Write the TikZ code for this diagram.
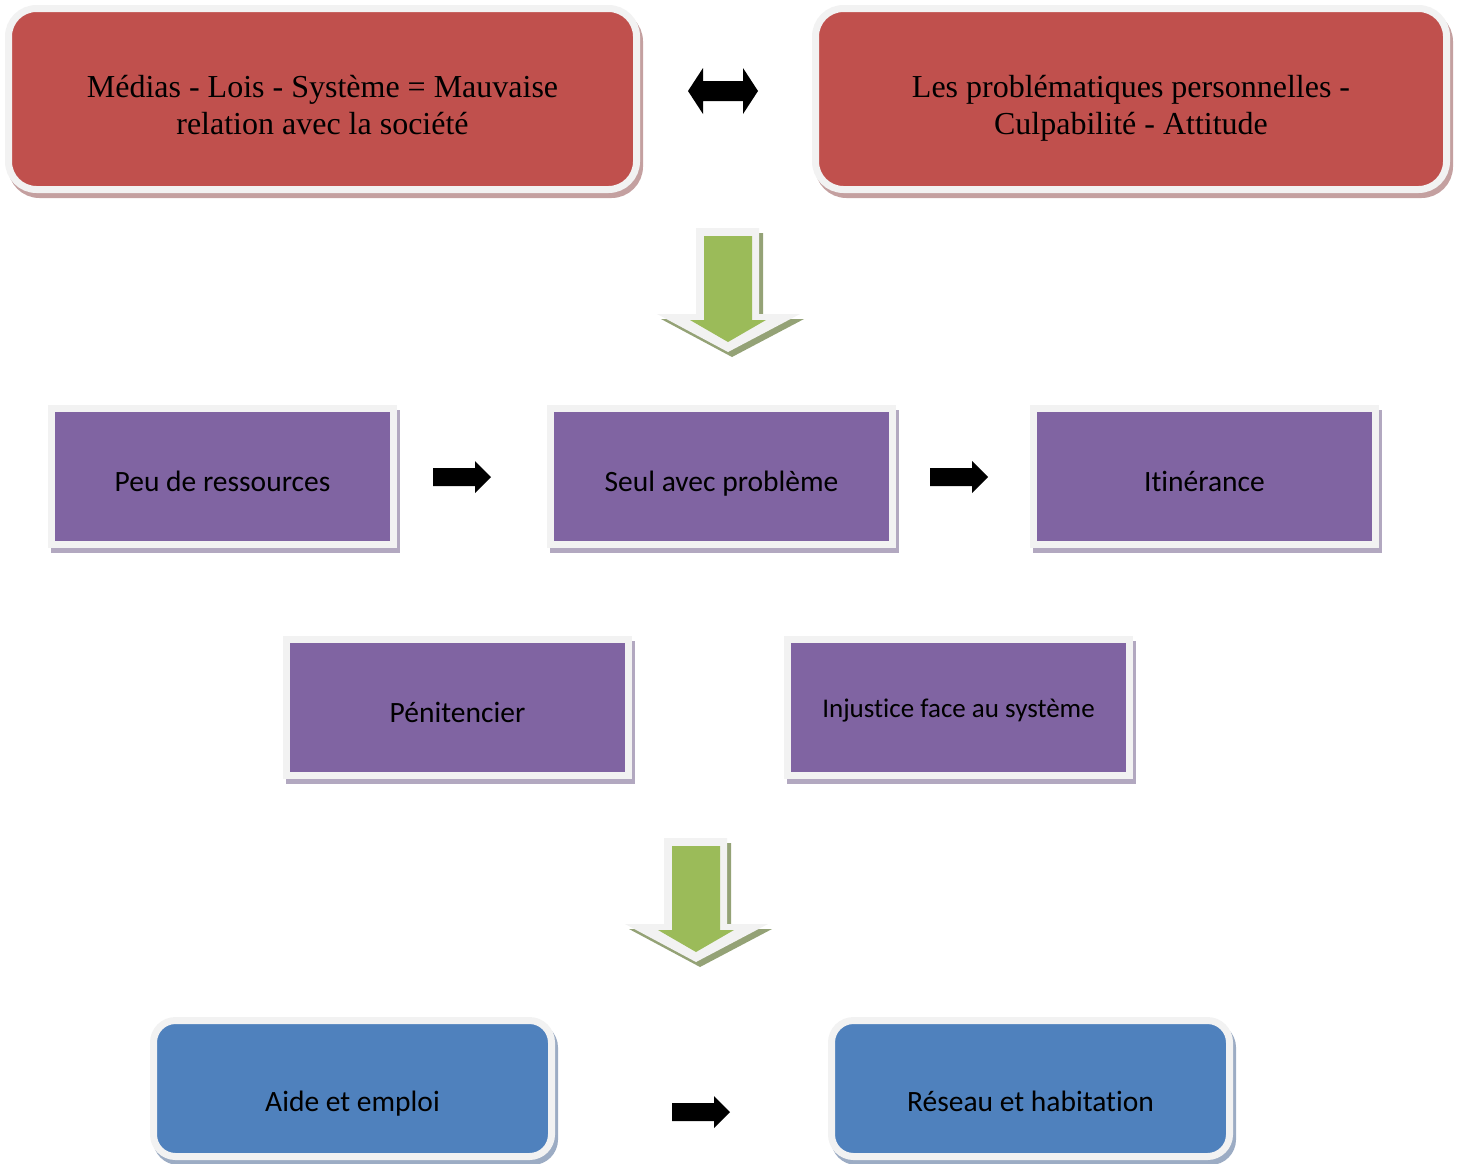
\documentclass[tikz,border=0pt]{standalone}
\usepackage{fontspec}
\setmainfont{Liberation Serif}
\newfontfamily\calibri[Ligatures=NoCommon]{Carlito}
\usetikzlibrary{shadows}
\definecolor{redfill}{HTML}{C0504D}
\definecolor{purplefill}{HTML}{8064A2}
\definecolor{bluefill}{HTML}{4F81BD}
\definecolor{greenfill}{HTML}{9BBB59}
\definecolor{rim}{HTML}{F2F2F2}
\definecolor{redshade}{RGB}{196,160,160}
\definecolor{purpleshade}{RGB}{178,168,192}
\definecolor{blueshade}{RGB}{156,172,196}
\definecolor{greenshade}{RGB}{148,162,118}
\tikzset{every node/.style={align=center, inner sep=0pt},
  box/.style={draw=rim, line width=3.5pt, minimum width=171pt, minimum height=68pt,
              text height=15pt, text depth=0pt,
              font=\calibri\fontsize{14.75}{17}\selectfont},
  shade/.style={drop shadow={shadow xshift=1.5pt, shadow yshift=-2.5pt, opacity=1,
              fill=#1, draw=#1, line width=3.5pt}},
  redbox/.style={box, fill=redfill, shade=redshade, rounded corners=14pt,
              minimum width=314pt, minimum height=90.5pt,
              text height=35pt, text depth=0pt,
              font=\fontsize{16}{18.5}\selectfont},
  purplebox/.style={box, fill=purplefill, shade=purpleshade},
  bluebox/.style={box, fill=bluefill, shade=blueshade, rounded corners=11pt,
              minimum width=199pt, text height=22.5pt},
  blackarrow/.style={fill=black}}

\begin{document}
\begin{tikzpicture}[x=0.5pt,y=-0.5pt]
  \useasboundingbox (0,0) rectangle (1461,1163);

  % top row
  \node[redbox] (medias) at ( 322.5,99) {Médias - Lois - Système = Mauvaise\\relation avec la société};
  \node[redbox, minimum width=315.5pt] (perso) at (1131,99) {Les problématiques personnelles -\\Culpabilité - Attitude};
  \fill[blackarrow] (688,91) -- (703,68) -- (703,81) -- (743,81) -- (743,68) -- (758,91)
                    -- (743,114) -- (743,101) -- (703,101) -- (703,114) -- cycle;

  % green arrows
  \foreach \x/\y in {728/228, 696/838} {
   \begin{scope}[shift={(\x,\y)}]
    \fill[greenshade] (-28,5) -- (35,5) -- (35,91) -- (76,91) -- (4,129) -- (-67,91) -- (-28,91) -- cycle;
    \fill[rim]        (-32,0) -- (31,0) -- (31,86) -- (72,86) -- (0,124) -- (-71,86) -- (-32,86) -- cycle;
    \fill[greenfill]  (-24,8) -- (24,8) -- (24,92) -- (38,92) -- (0,114) -- (-38,92) -- (-24,92) -- cycle;
   \end{scope}
  }

  % middle rows
  \node[purplebox] (peu)    at ( 222.5,476.5) {Peu de ressources};
  \node[purplebox] (seul)   at ( 721.5,476.5) {Seul avec problème};
  \node[purplebox] (itin)   at (1204.5,476.5) {Itinérance};
  \node[purplebox] (penit)  at ( 457.5,707.5) {Pénitencier};
  \node[purplebox, text height=9.5pt, font=\calibri\fontsize{13.5}{16}\selectfont] (injust) at (958.5,707.5) {Injustice face au système};

  % bottom row
  \node[bluebox] (aide)   at ( 352.5,1088.5) {Aide et emploi};
  \node[bluebox] (reseau) at (1030.5,1088.5) {Réseau et habitation};

  \foreach \x/\y in {433/477, 930/477, 672/1112}
    \fill[blackarrow, shift={(\x,\y)}] (0,-9) -- (42,-9) -- (42,-16) -- (58,0) -- (42,16) -- (42,9) -- (0,9) -- cycle;
\end{tikzpicture}
\end{document}
